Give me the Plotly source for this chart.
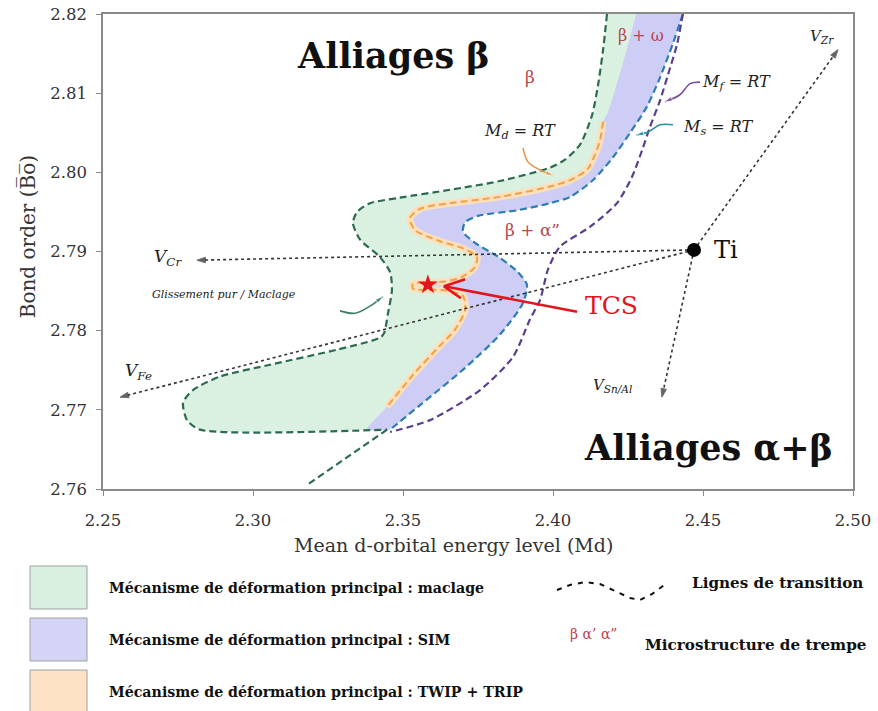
import plotly.graph_objects as go

# ---------------- data (data units: Md, Bo) ----------------
x_ticks = [2.25, 2.30, 2.35, 2.40, 2.45, 2.50]
x_ticktext = ["2.25", "2.30", "2.35", "2.40", "2.45", "2.50"]
y_ticks = [2.76, 2.77, 2.78, 2.79, 2.80, 2.81, 2.82]
y_ticktext = ["2.76", "2.77", "2.78", "2.79", "2.80", "2.81", "2.82"]

# green transition line (outer boundary of twinning domain)
green_x = [2.418, 2.4167, 2.415, 2.413, 2.409, 2.404, 2.399, 2.3823, 2.3657, 2.349, 2.339, 2.3347,
           2.3333, 2.3357, 2.3423, 2.3457, 2.3463, 2.345, 2.3437, 2.3423, 2.328, 2.3057, 2.289, 2.28,
           2.2767, 2.278, 2.2823, 2.3447]
green_y = [2.820, 2.8155, 2.8110, 2.8072, 2.8035, 2.8016, 2.8006, 2.7989, 2.7978, 2.7968, 2.7961, 2.7950,
           2.7936, 2.7915, 2.7893, 2.7874, 2.7851, 2.7822, 2.7797, 2.7791, 2.7776, 2.7757, 2.7742, 2.7725,
           2.7709, 2.7687, 2.7675, 2.7675]
green_tail_x = [2.3447, 2.318]
green_tail_y = [2.7675, 2.7605]

# Ms = RT (blue)
blue_x = [2.4433, 2.44, 2.4357, 2.4313, 2.4257, 2.42, 2.4133, 2.4057, 2.399, 2.388, 2.375, 2.3707,
          2.37, 2.374, 2.3823, 2.3883, 2.3913, 2.39, 2.3823, 2.3707, 2.3557, 2.3457]
blue_y = [2.82, 2.8163, 2.812, 2.8083, 2.805, 2.8019, 2.799, 2.7969, 2.7961, 2.7952, 2.7945, 2.7937,
          2.7925, 2.7911, 2.7892, 2.7874, 2.7858, 2.7835, 2.7795, 2.7753, 2.7706, 2.7675]

# Mf = RT (purple)
purple_x = [2.4433, 2.4413, 2.4383, 2.4357, 2.4323, 2.4297, 2.4263, 2.4213, 2.4123, 2.4023, 2.3983,
            2.3957, 2.3923, 2.3867, 2.3757, 2.359, 2.3457]
purple_y = [2.82, 2.8161, 2.8123, 2.8091, 2.8057, 2.8028, 2.7994, 2.7961, 2.7931, 2.7906, 2.7877,
            2.7839, 2.7814, 2.7767, 2.7725, 2.7687, 2.7672]

# Md = RT (orange)
orange_x = [2.4167, 2.4157, 2.414, 2.4113, 2.4057, 2.399, 2.3823, 2.3657, 2.3557, 2.3523, 2.354, 2.3623,
            2.37, 2.3747, 2.3737, 2.3697, 2.364, 2.3533, 2.3533, 2.364, 2.37, 2.3707, 2.3673, 2.3623,
            2.3533, 2.3447]
orange_y = [2.8064, 2.8041, 2.8022, 2.8003, 2.799, 2.7982, 2.7969, 2.7961, 2.7954, 2.7942, 2.7927, 2.7913,
            2.7904, 2.7893, 2.7879, 2.7868, 2.7862, 2.7859, 2.7853, 2.7851, 2.7844, 2.7826, 2.7801, 2.7781,
            2.7744, 2.7704]

# boundary between twinning and SIM colour above the Md line
iface_x = [2.4277, 2.425, 2.4217, 2.4183]
iface_y = [2.82, 2.8161, 2.8117, 2.8076]
sim_foot_x = [2.338, 2.3457]
sim_foot_y = [2.7675, 2.7675]

# Ti and alloying vectors
ti_x, ti_y = 2.447, 2.7902
vec_end_x = [2.2813, 2.2557, 2.4363, 2.495]
vec_end_y = [2.7889, 2.7716, 2.7716, 2.8155]

# TCS alloy
tcs_x, tcs_y = 2.3583, 2.7858

# ---------------- colours ----------------
C_GREEN_LINE = "#2c6b52"
C_GREEN_FILL = "#daf1e1"
C_BLUE_LINE = "#2d7db4"
C_BLUE_FILL = "#cdcdf6"
C_PURPLE = "#5a3f90"
C_ORANGE = "#eda24c"
C_ORANGE_BAND = "#fde0bb"
C_PHASE = "#b8454f"
FONT = "DejaVu Serif"

fig = go.Figure()
SPL = dict(shape="spline", smoothing=0.7)

# fills
fig.add_trace(go.Scatter(x=green_x + blue_x[::-1], y=green_y + blue_y[::-1], fill="toself",
                         fillcolor=C_GREEN_FILL, mode="lines", line=dict(width=0, **SPL),
                         hoverinfo="skip", showlegend=False))
fig.add_trace(go.Scatter(x=iface_x + orange_x + sim_foot_x + blue_x[::-1],
                         y=iface_y + orange_y + sim_foot_y + blue_y[::-1], fill="toself",
                         fillcolor=C_BLUE_FILL, mode="lines", line=dict(width=0, **SPL),
                         hoverinfo="skip", showlegend=False))
fig.add_trace(go.Scatter(x=orange_x, y=orange_y, mode="lines",
                         line=dict(color=C_ORANGE_BAND, width=7, **SPL), hoverinfo="skip", showlegend=False))

# transition lines
def dashed(xs, ys, color, width=2.2):
    fig.add_trace(go.Scatter(x=xs, y=ys, mode="lines",
                             line=dict(color=color, width=width, dash="7px,4px", **SPL),
                             hoverinfo="skip", showlegend=False))

dashed(green_x, green_y, C_GREEN_LINE)
dashed(green_tail_x, green_tail_y, C_GREEN_LINE)
dashed(blue_x, blue_y, C_BLUE_LINE)
dashed(purple_x, purple_y, C_PURPLE)
dashed(orange_x, orange_y, C_ORANGE, 2.0)

# dotted vectors from Ti
for ex, ey in zip(vec_end_x, vec_end_y):
    fig.add_trace(go.Scatter(x=[ti_x, ex], y=[ti_y, ey], mode="lines+markers",
                             line=dict(color="#333333", width=1.6, dash="dot"),
                             marker=dict(symbol=["circle", "arrow"], size=[0, 9], angleref="previous",
                                         color="#222222"),
                             hoverinfo="skip", showlegend=False))

fig.add_trace(go.Scatter(x=[ti_x], y=[ti_y], mode="markers",
                         marker=dict(symbol="circle", size=14, color="black"),
                         hoverinfo="skip", showlegend=False))

# small curved pointer arrows
pointers = [
    ([2.39, 2.3917, 2.3957, 2.4], [2.8031, 2.8013, 2.8003, 2.7996], "#e39a55"),
    ([2.449, 2.4457, 2.4423, 2.4373], [2.8114, 2.8112, 2.8098, 2.8089], "#7a4fa8"),
    ([2.44, 2.4357, 2.4317, 2.4277], [2.806, 2.806, 2.8051, 2.8047], "#2a8fa0"),
    ([2.329, 2.334, 2.339, 2.3433], [2.7825, 2.7822, 2.7831, 2.7843], "#3d7d6c"),
]
for px, py, pc in pointers:
    fig.add_trace(go.Scatter(x=px, y=py, mode="lines+markers",
                             line=dict(color=pc, width=1.6, shape="spline"),
                             marker=dict(symbol="arrow", size=[0, 0, 0, 8], angleref="previous", color=pc),
                             hoverinfo="skip", showlegend=False))

# TCS: star and red arrow
tcs_arrow_x = [2.408, 2.3637]
tcs_arrow_y = [2.7824, 2.7856]
tcs_head_x = [2.3707, 2.3637, 2.3693]
tcs_head_y = [2.7865, 2.7856, 2.7841]
fig.add_trace(go.Scatter(x=tcs_arrow_x, y=tcs_arrow_y, mode="lines",
                         line=dict(color="#e3141c", width=2.6), hoverinfo="skip", showlegend=False))
fig.add_trace(go.Scatter(x=tcs_head_x, y=tcs_head_y, mode="lines",
                         line=dict(color="#e3141c", width=2.6), hoverinfo="skip", showlegend=False))
fig.add_trace(go.Scatter(x=[tcs_x], y=[tcs_y], mode="markers",
                         marker=dict(symbol="star", size=15, color="#e3141c"),
                         hoverinfo="skip", showlegend=False))

# ---------------- text in plot ----------------
def ann(x, y, text, size, color="#222222", xanchor="center", **kw):
    fig.add_annotation(x=x, y=y, xref="x", yref="y", text=text, showarrow=False,
                       font=dict(family=FONT, size=size, color=color), xanchor=xanchor,
                       yanchor="middle", **kw)

ann(2.3467, 2.8148, "<b>Alliages β</b>", 35, "#111111")
ann(2.4517, 2.7653, "<b>Alliages α+β</b>", 35, "#111111")
ann(2.3923, 2.8120, "β", 17, C_PHASE)
ann(2.4293, 2.8173, "β + ω", 16, C_PHASE)
ann(2.3933, 2.7927, "β + α”", 17, C_PHASE)
ann(2.389, 2.8051, "<i>M</i><sub><i>d</i></sub> = <i>RT</i>", 16)
ann(2.4613, 2.8114, "<i>M</i><sub><i>f</i></sub> = <i>RT</i>", 16)
ann(2.455, 2.8057, "<i>M</i><sub><i>s</i></sub> = <i>RT</i>", 16)
ann(2.2717, 2.7893, "<i>V</i><sub><i>Cr</i></sub>", 17)
ann(2.2617, 2.7748, "<i>V</i><sub><i>Fe</i></sub>", 17)
ann(2.4197, 2.7731, "<i>V</i><sub><i>Sn/Al</i></sub>", 15)
ann(2.4897, 2.8171, "<i>V</i><sub><i>Zr</i></sub>", 15)
ann(2.2903, 2.7846, "<i>Glissement pur / Maclage</i>", 11)
ann(2.4530, 2.7902, "Ti", 24, "#111111", xanchor="left")
ann(2.4100, 2.7832, "TCS", 25, "#e3141c", xanchor="left")

# axis titles
fig.add_annotation(x=0.4667, y=-0.118, xref="paper", yref="paper", showarrow=False,
                   text="Mean d-orbital energy level (Md)", font=dict(family=FONT, size=19, color="#333333"),
                   xanchor="center", yanchor="middle")
fig.add_annotation(x=-0.10, y=0.53, xref="paper", yref="paper", showarrow=False, textangle=-90,
                   text="Bond order (B\u0305o\u0305)", font=dict(family=FONT, size=20, color="#333333"),
                   xanchor="center", yanchor="middle")

# ---------------- legend block below the plot ----------------
legend_labels = ["Mécanisme de déformation principal : maclage",
                 "Mécanisme de déformation principal : SIM",
                 "Mécanisme de déformation principal : TWIP + TRIP"]
legend_fills = ["#d9efe0", "#d4d4f7", "#fde2c6"]
box_y0 = [-0.1621, -0.2716, -0.3811]
box_y1 = [-0.2526, -0.3621, -0.4800]
text_y = [-0.2084, -0.3179, -0.4274]
for lab, fc, y0, y1, ty in zip(legend_labels, legend_fills, box_y0, box_y1, text_y):
    fig.add_shape(type="rect", xref="paper", yref="paper", x0=-0.0973, x1=-0.0213, y0=y0, y1=y1,
                  fillcolor=fc, line=dict(color="#a0a0a0", width=1))
    fig.add_annotation(x=0.0053, y=ty, xref="paper", yref="paper", showarrow=False, text="<b>%s</b>" % lab,
                       font=dict(family=FONT, size=14.2, color="#111111"), xanchor="left", yanchor="middle")

fig.add_shape(type="path", xref="paper", yref="paper",
              path="M 0.6053,-0.2126 L 0.6227,-0.2021 L 0.6427,-0.1958 L 0.6627,-0.2000 L 0.6827,-0.2147 "
                   "L 0.7027,-0.2295 L 0.7160,-0.2337 L 0.7320,-0.2211 L 0.7520,-0.1979",
              line=dict(color="#111111", width=2, dash="5px,6px"))
fig.add_annotation(x=0.7827, y=-0.1979, xref="paper", yref="paper", showarrow=False,
                   text="<b>Lignes de transition</b>", font=dict(family=FONT, size=15.2, color="#111111"),
                   xanchor="left", yanchor="middle")
fig.add_annotation(x=0.62, y=-0.3053, xref="paper", yref="paper", showarrow=False,
                   text="β α’ α”", font=dict(family=FONT, size=14, color=C_PHASE),
                   xanchor="left", yanchor="middle")
fig.add_annotation(x=0.72, y=-0.3284, xref="paper", yref="paper", showarrow=False,
                   text="<b>Microstructure de trempe</b>", font=dict(family=FONT, size=15.2, color="#111111"),
                   xanchor="left", yanchor="middle")

# ---------------- axes / layout ----------------
axis_common = dict(showline=True, mirror=True, linecolor="#8a8a8a", linewidth=1.5, ticks="outside",
                   ticklen=5, tickcolor="#8a8a8a", showgrid=False, zeroline=False, automargin=False,
                   ticklabeloverflow="allow",
                   tickfont=dict(family=FONT, size=16.5, color="#333333"))
fig.update_xaxes(range=[2.25, 2.50], tickvals=x_ticks, ticktext=x_ticktext, ticklabelstandoff=10, **axis_common)
fig.update_yaxes(range=[2.76, 2.82], tickvals=y_ticks, ticktext=y_ticktext, ticklabelstandoff=6, **axis_common)
fig.update_layout(width=878, height=711, margin=dict(l=103, r=25, t=14, b=222, autoexpand=False),
                  plot_bgcolor="white", paper_bgcolor="white", showlegend=False)

# remove the default 8px page margin so the figure fills the window exactly; hide the mode bar
fig.write_html("out.html", config={"displayModeBar": False},
               post_script="document.body.style.margin='0px';")
